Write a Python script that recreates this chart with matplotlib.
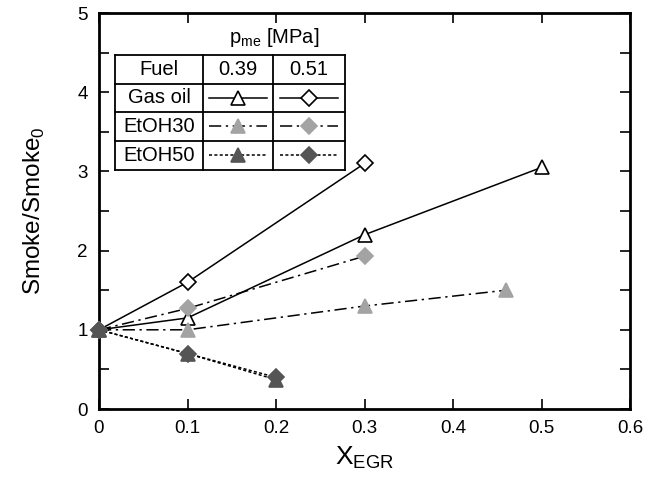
import matplotlib.pyplot as plt
from matplotlib.lines import Line2D
from matplotlib.ticker import MultipleLocator, FuncFormatter

plt.rcParams['font.family'] = ['Liberation Sans', 'DejaVu Sans']
plt.rcParams['mathtext.fontset'] = 'custom'
plt.rcParams['mathtext.rm'] = 'Liberation Sans'

# EGR rate and normalized smoke for each fuel / load
x_gas_039 = [0, 0.1, 0.3, 0.5]
y_gas_039 = [1.0, 1.15, 2.2, 3.05]
x_gas_051 = [0, 0.1, 0.3]
y_gas_051 = [1.0, 1.6, 3.1]
x_e30_039 = [0, 0.1, 0.3, 0.46]
y_e30_039 = [1.0, 1.0, 1.3, 1.5]
x_e30_051 = [0, 0.1, 0.3]
y_e30_051 = [1.0, 1.27, 1.93]
x_e50_039 = [0, 0.1, 0.2]
y_e50_039 = [1.0, 0.7, 0.37]
x_e50_051 = [0, 0.1, 0.2]
y_e50_051 = [1.0, 0.7, 0.4]

fuels = ['Gas oil', 'EtOH30', 'EtOH50']
loads = ['0.39', '0.51']

light = '#a3a3a3'
dark = '#555555'
dashdot = (0, (8, 3, 1.5, 3))
dotted = (0, (2, 1.5))

styles = {
    ('Gas oil', '0.39'): dict(ls='-', marker='^', mfc='white', mec='black'),
    ('Gas oil', '0.51'): dict(ls='-', marker='D', mfc='white', mec='black'),
    ('EtOH30', '0.39'): dict(ls=dashdot, marker='^', mfc=light, mec=light),
    ('EtOH30', '0.51'): dict(ls=dashdot, marker='D', mfc=light, mec=light),
    ('EtOH50', '0.39'): dict(ls=dotted, marker='^', mfc=dark, mec=dark),
    ('EtOH50', '0.51'): dict(ls=dotted, marker='D', mfc=dark, mec=dark),
}
msize = {'^': 10, 'D': 8}

fig = plt.figure(figsize=(6.64, 4.79), dpi=100)
ax = fig.add_axes([99 / 664, 1 - 409 / 479, 531 / 664, 396 / 479])

series = [
    (('Gas oil', '0.39'), x_gas_039, y_gas_039),
    (('Gas oil', '0.51'), x_gas_051, y_gas_051),
    (('EtOH30', '0.39'), x_e30_039, y_e30_039),
    (('EtOH30', '0.51'), x_e30_051, y_e30_051),
    (('EtOH50', '0.39'), x_e50_039, y_e50_039),
    (('EtOH50', '0.51'), x_e50_051, y_e50_051),
]
for key, xs, ys in series:
    st = styles[key]
    ax.plot(xs, ys, linestyle=st['ls'], color='black', lw=1.1,
            marker=st['marker'], ms=msize[st['marker']], mfc=st['mfc'],
            mec=st['mec'], mew=1.2, clip_on=False, zorder=3)

ax.set_xlim(0, 0.6)
ax.set_ylim(0, 5)
ax.xaxis.set_major_locator(MultipleLocator(0.1))
ax.xaxis.set_major_formatter(FuncFormatter(lambda v, p: '%g' % round(v, 2)))
ax.yaxis.set_major_locator(MultipleLocator(1))
ax.yaxis.set_minor_locator(MultipleLocator(0.5))
ax.tick_params(which='both', direction='in', top=True, right=True, width=1.2,
               labelsize=13.5, pad=8, length=7)
for s in ax.spines.values():
    s.set_linewidth(2)

ax.set_xlabel(r'X$_{\mathrm{EGR}}$', fontsize=19, labelpad=5)
ax.set_ylabel(r'Smoke/Smoke$_{\mathrm{0}}$', fontsize=17.5, labelpad=22)

# legend drawn as a small table
tx = [0.030, 0.196, 0.328, 0.463]
ty = [0.894, 0.821, 0.750, 0.677, 0.604]
fs = 14.5
kw = dict(transform=ax.transAxes, color='black', lw=1.3, zorder=5)
for yy in ty:
    ax.add_line(Line2D([tx[0], tx[-1]], [yy, yy], **kw))
for xx in tx:
    ax.add_line(Line2D([xx, xx], [ty[-1], ty[0]], **kw))
ax.add_patch(plt.Rectangle((tx[0], ty[-1]), tx[-1] - tx[0], ty[0] - ty[-1],
                           transform=ax.transAxes, facecolor='white', zorder=4))

ax.text((tx[1] + tx[-1]) / 2, 0.937, r'p$_{\mathrm{me}}$ [MPa]', transform=ax.transAxes,
        ha='center', va='center', fontsize=fs)
ax.text((tx[0] + tx[1]) / 2, (ty[0] + ty[1]) / 2, 'Fuel', transform=ax.transAxes,
        ha='center', va='center', fontsize=fs, zorder=6)
for j, ld in enumerate(loads):
    ax.text((tx[j + 1] + tx[j + 2]) / 2, (ty[0] + ty[1]) / 2, ld, transform=ax.transAxes,
            ha='center', va='center', fontsize=fs, zorder=6)
for i, fuel in enumerate(fuels):
    yc = (ty[i + 1] + ty[i + 2]) / 2
    ax.text((tx[0] + tx[1]) / 2, yc, fuel, transform=ax.transAxes,
            ha='center', va='center', fontsize=fs, zorder=6)
    for j, ld in enumerate(loads):
        st = styles[(fuel, ld)]
        x0, x1 = tx[j + 1] + 0.012, tx[j + 2] - 0.012
        ax.add_line(Line2D([x0, x1], [yc, yc], transform=ax.transAxes,
                           linestyle=st['ls'], color='black', lw=1.1, zorder=6))
        ax.add_line(Line2D([(x0 + x1) / 2], [yc], transform=ax.transAxes,
                           linestyle='none', marker=st['marker'], ms=msize[st['marker']],
                           mfc=st['mfc'], mec=st['mec'], mew=1.2, zorder=7))

fig.savefig('out.png', dpi=100)
